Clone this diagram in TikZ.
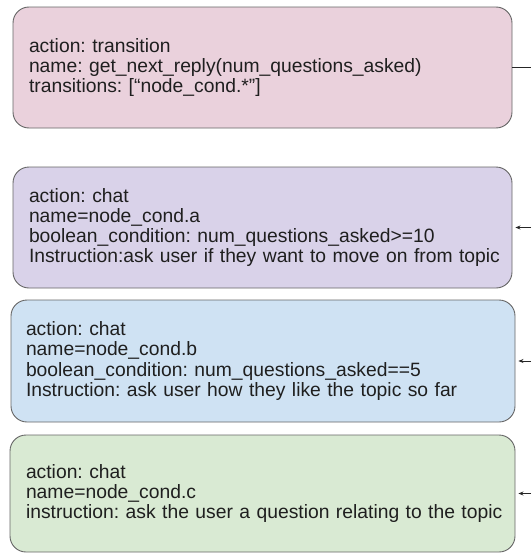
\documentclass[tikz,border=0pt]{standalone}
\usepackage{fontspec}
\setmainfont{Liberation Sans}[WordSpace=0.8]
\frenchspacing
\usetikzlibrary{arrows.meta}
\definecolor{boxline}{HTML}{666666}
\definecolor{textdark}{HTML}{1F1F1F}
\definecolor{fill_trans}{HTML}{EAD1DC}
\definecolor{fill_a}{HTML}{D9D2E9}
\definecolor{fill_b}{HTML}{CFE2F3}
\definecolor{fill_c}{HTML}{D9EAD3}

\begin{document}
\begin{tikzpicture}[
		x=1pt, y=-1pt,
		every node/.style={rectangle, rounded corners=16pt, draw=boxline, line width=0.9pt,
			align=left, inner xsep=16pt, inner ysep=0pt, text=textdark,
			font=\fontsize{19.3}{20.2}\selectfont\frenchspacing},
		link/.style={draw=black!85, line width=0.7pt},
		linkarrow/.style={link, -{Stealth[length=5pt, width=4pt]}, shorten >=3pt}
	]
  \useasboundingbox (0,0) rectangle (531,554);
  \node (n_trans) [fill=fill_trans, text width=467pt, minimum height=121pt] at (262.5, 67.5)
    {action: transition\\name: get\_next\_reply(num\_questions\_asked)\\transitions: [“node\_cond.*”]};
  \node (n_cond_a) [fill=fill_a, text width=467pt, minimum height=121pt] at (262.5, 227.5)
    {action: chat\\name=node\_cond.a\\boolean\_condition: num\_questions\_asked>=10\\\mbox{Instruction:ask user if they want to move on from topic}};
  \node (n_cond_b) [fill=fill_b, inner xsep=15pt, text width=474pt, minimum height=122pt] at (263, 361)
    {action: chat\\name=node\_cond.b\\boolean\_condition: num\_questions\_asked==5\\Instruction: ask user how they like the topic so far};
  \node (n_cond_c) [fill=fill_c, inner xsep=16pt, text width=473pt, minimum height=117pt] at (262.5, 493.5)
    {action: chat\\name=node\_cond.c\\\mbox{instruction: ask the user a question relating to the topic}};
  \coordinate (r_trans) at (531, 67.5);
  \coordinate (r_a) at (531, 227.5);
  \coordinate (r_b) at (531, 361);
  \coordinate (r_c) at (531, 493.5);
  \draw [link] (n_trans) -- (r_trans);
  \draw [linkarrow] (r_a) -- (n_cond_a);
  \draw [linkarrow] (r_b) -- (n_cond_b);
  \draw [linkarrow] (r_c) -- (n_cond_c);
\end{tikzpicture}
\end{document}
